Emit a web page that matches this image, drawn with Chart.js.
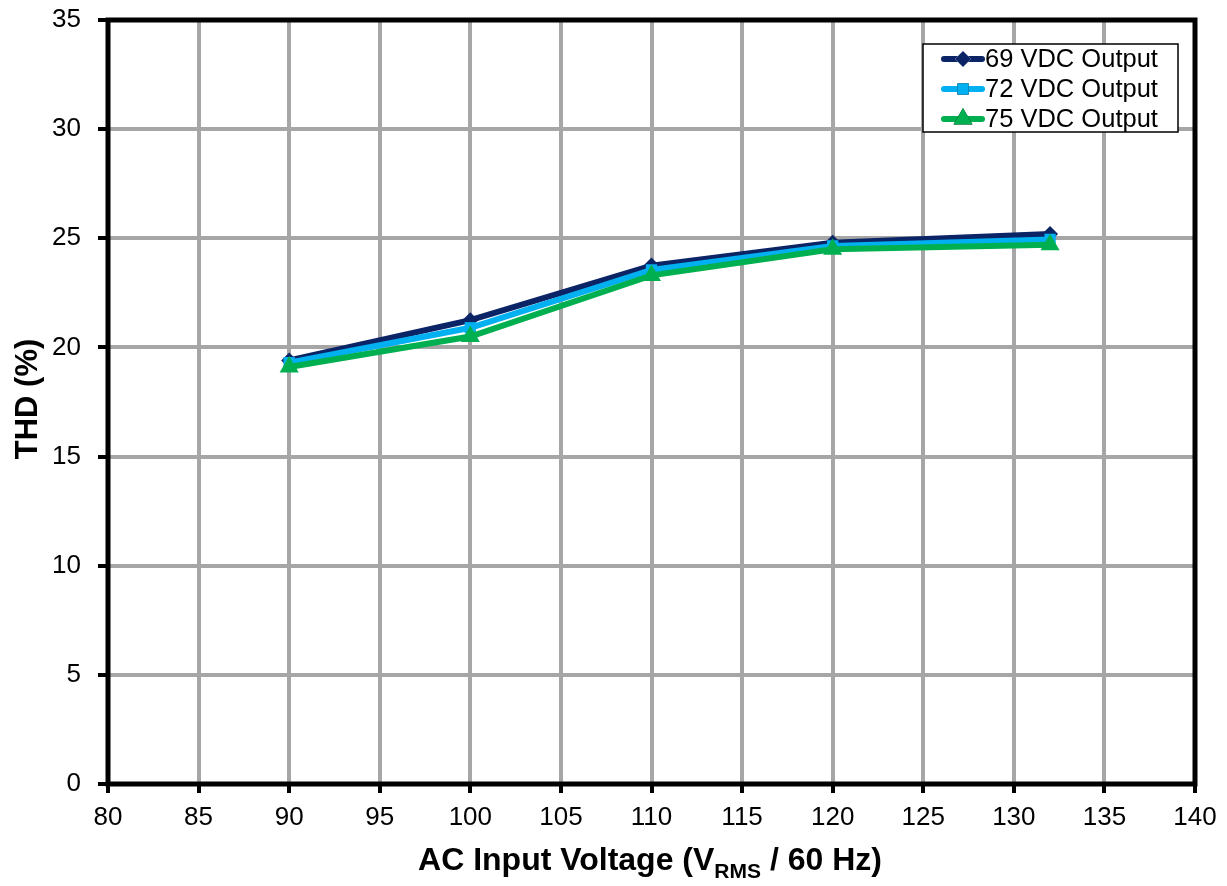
<!DOCTYPE html>
<html>
<head>
<meta charset="utf-8">
<script src="https://cdn.jsdelivr.net/npm/chart.js@4.4.1/dist/chart.umd.min.js"></script>
<style>
  html, body { margin: 0; padding: 0; background: #fff; }
  #wrap { width: 1227px; height: 886px; }
</style>
</head>
<body>
<div id="wrap"><canvas id="thdChart" width="1227" height="886"></canvas></div>
<script>
// input voltage points (V RMS)
const inputVoltage = [90, 100, 110, 120, 132];
// THD % per output setting
const thd69 = [19.4, 21.25, 23.75, 24.8, 25.2];
const thd72 = [19.3, 20.9, 23.55, 24.65, 24.95];
const thd75 = [19.1, 20.5, 23.3, 24.5, 24.7];
const seriesNames = ["69 VDC Output", "72 VDC Output", "75 VDC Output"];
const xTicks = [80, 85, 90, 95, 100, 105, 110, 115, 120, 125, 130, 135, 140];
const yTicks = [0, 5, 10, 15, 20, 25, 30, 35];

const FONT = '"Liberation Sans", Arial, sans-serif';

function toPoints(ys) {
    return inputVoltage.map((x, i) => ({ x: x, y: ys[i] }));
}

// frame, axis titles and legend box drawn on top
const decorPlugin = {
    id: "decor",
    afterDraw(chart) {
        const ctx = chart.ctx;
        const a = chart.chartArea;
        ctx.save();

        // black frame around plot
        ctx.strokeStyle = "#000";
        ctx.lineWidth = 5;
        ctx.strokeRect(a.left, a.top, a.right - a.left, a.bottom - a.top);

        // y title
        ctx.fillStyle = "#000";
        ctx.font = "bold 31px " + FONT;
        ctx.textAlign = "center";
        ctx.textBaseline = "alphabetic";
        ctx.translate(37, 399);
        ctx.rotate(-Math.PI / 2);
        ctx.fillText("THD (%)", 0, 0);
        ctx.setTransform(1, 0, 0, 1, 0, 0);

        // x title with subscript
        const p1 = "AC Input Voltage (V", sub = "RMS", p3 = " / 60 Hz)";
        ctx.textAlign = "left";
        ctx.textBaseline = "alphabetic";
        ctx.font = "bold 32px " + FONT;
        const w1 = ctx.measureText(p1).width;
        const w3 = ctx.measureText(p3).width;
        ctx.font = "bold 21px " + FONT;
        const w2 = ctx.measureText(sub).width;
        let x = 650 - (w1 + w2 + w3) / 2;
        const base = 870;
        ctx.font = "bold 32px " + FONT;
        ctx.fillText(p1, x, base);
        x += w1;
        ctx.font = "bold 21px " + FONT;
        ctx.fillText(sub, x, base + 8);
        x += w2;
        ctx.font = "bold 32px " + FONT;
        ctx.fillText(p3, x, base);

        // legend
        const lx = 923, ly = 44, lw = 255, lh = 88;
        ctx.fillStyle = "#fff";
        ctx.fillRect(lx, ly, lw, lh);
        ctx.strokeStyle = "#000";
        ctx.lineWidth = 1.5;
        ctx.strokeRect(lx, ly, lw, lh);
        chart.data.datasets.forEach((ds, i) => {
            const cy = ly + 15 + i * 30;
            ctx.strokeStyle = ds.borderColor;
            ctx.lineWidth = ds.borderWidth;
            ctx.lineCap = "round";
            ctx.beginPath();
            ctx.moveTo(944, cy);
            ctx.lineTo(982, cy);
            ctx.stroke();
            Chart.helpers.drawPoint(ctx, {
                pointStyle: ds.pointStyle,
                radius: ds.pointRadius,
                borderWidth: 0,
                rotation: 0
            }, 963, cy);
            ctx.fillStyle = ds.pointBackgroundColor;
            ctx.fill();
            ctx.fillStyle = "#000";
            ctx.font = "25.5px " + FONT;
            ctx.textBaseline = "middle";
            ctx.fillText(seriesNames[i], 985, cy + 1);
        });
        ctx.restore();
    }
};

const colors = ["#0b2466", "#00b0f0", "#00b050"];
const styles = ["rectRot", "rect", "triangle"];
const radii = [8, 8, 11];
const values = [thd69, thd72, thd75];

const ctx = document.getElementById("thdChart").getContext("2d");
new Chart(ctx, {
    type: "line",
    data: {
        datasets: values.map((v, i) => ({
            label: seriesNames[i],
            data: toPoints(v),
            borderColor: colors[i],
            backgroundColor: colors[i],
            pointBackgroundColor: colors[i],
            pointBorderWidth: 0,
            borderWidth: 6,
            pointStyle: styles[i],
            pointRadius: radii[i],
            tension: 0,
            order: 2 - i
        }))
    },
    options: {
        responsive: false,
        animation: false,
        layout: { padding: { left: 0, right: 32, top: 20, bottom: 0 } },
        plugins: { legend: { display: false }, tooltip: { enabled: false } },
        scales: {
            x: {
                type: "linear",
                min: 80,
                max: 140,
                afterBuildTicks(scale) { scale.ticks = xTicks.map(v => ({ value: v })); },
                afterFit(scale) { scale.height = 102; scale.paddingLeft = 0; scale.paddingRight = 0; },
                grid: { color: "#a6a6a6", lineWidth: 4, tickColor: "#000", tickLength: 9, tickWidth: 4 },
                border: { display: false },
                ticks: { color: "#000", font: { family: FONT, size: 26 }, padding: 9, maxRotation: 0 }
            },
            y: {
                min: 0,
                max: 35,
                afterBuildTicks(scale) { scale.ticks = yTicks.map(v => ({ value: v })); },
                afterFit(scale) { scale.width = 108; scale.paddingTop = 0; scale.paddingBottom = 0; },
                grid: { color: "#a6a6a6", lineWidth: 4, tickColor: "#000", tickLength: 10, tickWidth: 4 },
                border: { display: false },
                ticks: { color: "#000", font: { family: FONT, size: 26 }, padding: 17 }
            }
        }
    },
    plugins: [decorPlugin]
});
</script>
</body>
</html>
